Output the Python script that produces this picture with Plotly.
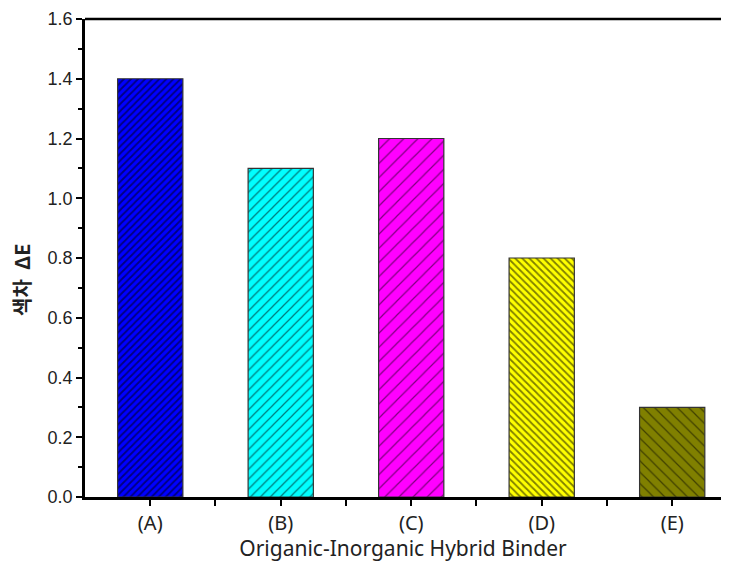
import plotly.graph_objects as go

categories = ["(A)", "(B)", "(C)", "(D)", "(E)"]
values = [1.4, 1.1, 1.2, 0.8, 0.3]
colors = ["#0000FF", "#00FFFF", "#FF00FF", "#FFFF00", "#808000"]
shapes = ["/", "/", "/", "\\", "\\"]
sizes = [5, 7, 10, 5, 8]
solidity = [0.35, 0.18, 0.12, 0.35, 0.15]
ytickvals = [0.0, 0.2, 0.4, 0.6, 0.8, 1.0, 1.2, 1.4, 1.6]
yticktext = ["0.0", "0.2", "0.4", "0.6", "0.8", "1.0", "1.2", "1.4", "1.6"]

fig = go.Figure()
for i, cat in enumerate(categories):
    fig.add_trace(go.Bar(
        x=[i],
        y=[values[i]],
        width=0.5,
        name=cat,
        marker=dict(
            color=colors[i],
            line=dict(color="#333333", width=1.2),
            pattern=dict(shape=shapes[i], size=sizes[i], solidity=solidity[i],
                         fgcolor="#000000", bgcolor=colors[i], fillmode="overlay"),
        ),
        showlegend=False,
    ))

# page body has an 8px margin, so the figure is offset by 8px
fig.update_layout(
    width=713, height=554,
    margin=dict(l=77, r=0, t=11, b=65, autoexpand=False),
    plot_bgcolor="white", paper_bgcolor="white",
    barmode="overlay",
)
fig.update_xaxes(
    range=[-0.5, 4.374],
    automargin=False,
    tickvals=list(range(len(categories))),
    ticktext=categories,
    ticks="outside", ticklen=6, tickwidth=2, tickcolor="black",
    showline=True, linewidth=2.5, linecolor="black", mirror=False,
    showgrid=False, zeroline=False,
    tickfont=dict(family="Noto Sans", size=20, color="#222222"),
    minor=dict(tickvals=[0.5, 1.5, 2.5, 3.5], ticks="outside", ticklen=6,
               tickwidth=2, tickcolor="black", showgrid=False),
    title=dict(text="Origanic-Inorganic Hybrid Binder",
               font=dict(family="Noto Sans", size=21, color="#222222"),
               standoff=2),
)
fig.update_yaxes(
    range=[0, 1.6],
    automargin=False,
    tickvals=ytickvals, ticktext=yticktext,
    ticks="outside", ticklen=6, tickwidth=2, tickcolor="black",
    showline=True, linewidth=2.5, linecolor="black",
    showgrid=False, zeroline=False,
    tickfont=dict(family="Liberation Sans, Arial", size=18, color="#222222"),
    minor=dict(dtick=0.1, ticks="outside", ticklen=4, tickwidth=1.5,
               tickcolor="black", showgrid=False),
)
# top frame line
fig.add_shape(type="line", xref="paper", yref="paper", x0=0, x1=1, y0=1, y1=1,
              line=dict(color="black", width=2.5))
fig.add_annotation(
    text="<b>색차  ΔE</b>", xref="paper", yref="paper",
    x=-0.1, y=0.455, textangle=-90, showarrow=False,
    xanchor="center", yanchor="middle",
    font=dict(family="Noto Sans CJK KR", size=20, color="#222222"),
)

fig.write_html("out.html")
